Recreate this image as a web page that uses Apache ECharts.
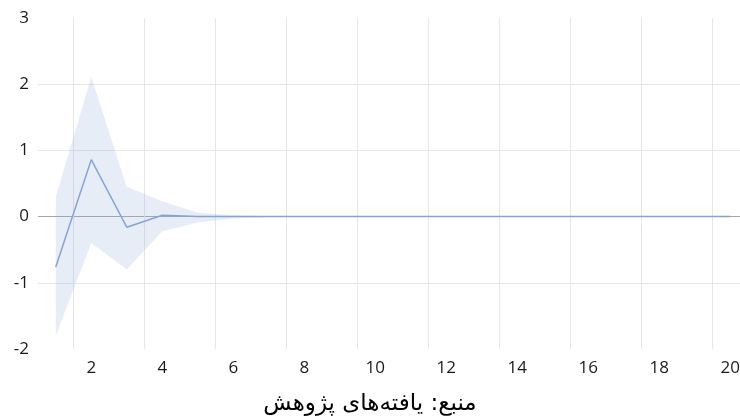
<!DOCTYPE html>
<html>
<head>
<meta charset="utf-8">
<script src="https://cdn.jsdelivr.net/npm/echarts@6/dist/echarts.min.js"></script>
<style>
  html, body { margin: 0; padding: 0; background: #fff; }
  #chart { width: 740px; height: 418px; }
</style>
</head>
<body>
<div id="chart"></div>
<script>
// periods 1..20
const periods = ['1','2','3','4','5','6','7','8','9','10','11','12','13','14','15','16','17','18','19','20'];
// impulse response and its band
const response = [-0.76, 0.86, -0.16, 0.02, 0, 0, 0, 0, 0, 0, 0, 0, 0, 0, 0, 0, 0, 0, 0, 0];
const upper = [0.30, 2.11, 0.45, 0.23, 0.06, 0.02, 0.005, 0, 0, 0, 0, 0, 0, 0, 0, 0, 0, 0, 0, 0];
const lower = [-1.80, -0.40, -0.80, -0.22, -0.09, -0.03, -0.01, 0, 0, 0, 0, 0, 0, 0, 0, 0, 0, 0, 0, 0];
const sourceNote = 'منبع: یافته‌های پژوهش';

const bandWidth = upper.map((u, i) => u - lower[i]);
const everyOther = (i) => i % 2 === 1;

let chart = echarts.init(document.getElementById('chart'));

const option = {
  animation: false,
  backgroundColor: '#fff',
  grid: {
    left: 38,
    top: 18,
    width: 710,
    height: 331,
    outerBoundsMode: 'none',
    containLabel: false,
  },
  title: {
    text: sourceNote,
    left: 'center',
    top: 388,
    textStyle: {
      fontFamily: 'DejaVu Sans',
      fontSize: 23,
      fontWeight: 'normal',
      color: '#000',
    },
  },
  xAxis: {
    type: 'category',
    data: periods,
    boundaryGap: true,
    axisLine: { show: false },
    axisTick: { show: false },
    axisLabel: {
      interval: everyOther,
      margin: 11,
      color: '#1a1a1a',
      fontFamily: 'Open Sans',
      fontSize: 17,
    },
    splitLine: {
      show: true,
      interval: everyOther,
      lineStyle: { color: '#e6e6e6', width: 1 },
    },
  },
  yAxis: {
    type: 'value',
    min: -2,
    max: 3,
    interval: 1,
    axisLine: { show: false },
    axisTick: { show: false },
    axisLabel: {
      margin: 9,
      color: '#1a1a1a',
      fontFamily: 'Open Sans',
      fontSize: 17,
    },
    splitLine: {
      show: true,
      lineStyle: {
        // -2, -1, 0, 1, 2, 3
        color: ['rgba(0,0,0,0)', '#e6e6e6', '#a6a6a6', '#e6e6e6', '#e6e6e6', 'rgba(0,0,0,0)'],
        width: 1,
      },
    },
  },
  series: [
    {
      name: 'lower',
      type: 'line',
      data: lower,
      stack: 'band',
      stackStrategy: 'all',
      symbol: 'none',
      lineStyle: { opacity: 0 },
      silent: true,
    },
    {
      name: 'band',
      type: 'line',
      data: bandWidth,
      stack: 'band',
      stackStrategy: 'all',
      symbol: 'none',
      lineStyle: { opacity: 0 },
      areaStyle: { color: 'rgba(143,170,220,0.31)' },
      silent: true,
    },
    {
      name: 'response',
      type: 'line',
      data: response,
      symbol: 'none',
      lineStyle: { color: '#86a3d8', width: 1.5 },
    },
  ],
};

chart.setOption(option);
</script>
</body>
</html>
